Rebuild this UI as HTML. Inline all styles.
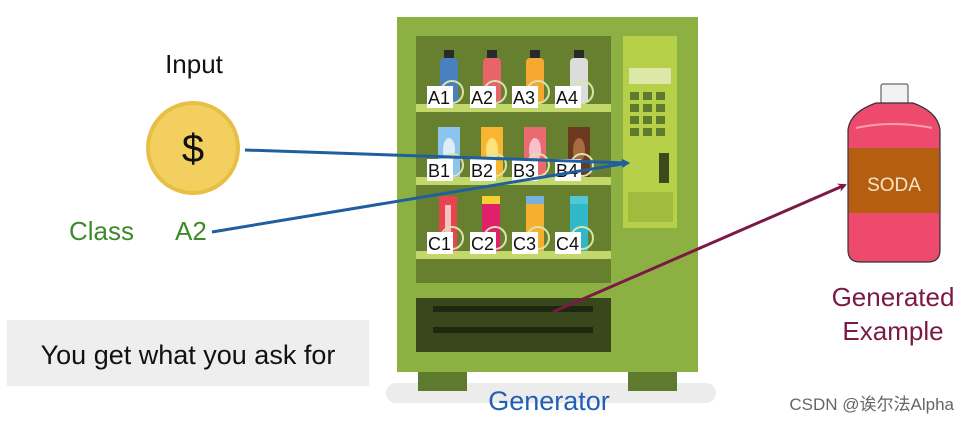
<!DOCTYPE html>
<html><head><meta charset="utf-8"><style>
html,body{margin:0;padding:0;background:#fff;}
svg{display:block;font-family:"Liberation Sans","Noto Sans CJK SC",sans-serif;}
</style></head><body>
<svg width="967" height="423" viewBox="0 0 967 423" xmlns="http://www.w3.org/2000/svg">
<defs>
<marker id="ab" markerWidth="8" markerHeight="8" refX="6" refY="4" orient="auto" markerUnits="userSpaceOnUse"><path d="M0,0 L8,4 L0,8 z" fill="#1f5fa0"/></marker>
<marker id="ap" markerWidth="9" markerHeight="9" refX="7" refY="4.5" orient="auto" markerUnits="userSpaceOnUse"><path d="M0,0 L9,4.5 L0,9 L3,4.5 z" fill="#7a1a45"/></marker>
</defs>
<text x="194" y="73" font-size="26" text-anchor="middle" fill="#111">Input</text>
<circle cx="193" cy="148" r="47" fill="#e8bf45"/>
<circle cx="193" cy="148" r="43" fill="#f3cf5f"/>
<text x="193" y="162" font-size="40" text-anchor="middle" fill="#111">$</text>
<text x="69" y="240" font-size="26" fill="#3d8a2a">Class</text>
<text x="175" y="240" font-size="26" fill="#3d8a2a">A2</text>
<rect x="7" y="320" width="362" height="66" fill="#eeeeee"/>
<text x="188" y="364" font-size="27" text-anchor="middle" fill="#111">You get what you ask for</text>
<!-- machine -->
<rect x="386" y="383" width="330" height="20" rx="10" fill="#ececec"/>
<rect x="418" y="370" width="49" height="21" fill="#5e7a2c"/>
<rect x="628" y="370" width="49" height="21" fill="#5e7a2c"/>
<rect x="397" y="17" width="301" height="355" fill="#8db043"/>
<rect x="416" y="36" width="195" height="247" fill="#67802f"/>
<rect x="416" y="298" width="195" height="54" fill="#38481c"/>
<rect x="433" y="306" width="160" height="6" fill="#1e2810"/>
<rect x="433" y="327" width="160" height="6" fill="#1e2810"/>
<rect x="623" y="36" width="54" height="192" fill="#b6d04a"/>
<rect x="629" y="68" width="42" height="16" fill="#dde7a8"/>
<g fill="#5e7a2c">
<rect x="630" y="92" width="9" height="8"/><rect x="643" y="92" width="9" height="8"/><rect x="656" y="92" width="9" height="8"/>
<rect x="630" y="104" width="9" height="8"/><rect x="643" y="104" width="9" height="8"/><rect x="656" y="104" width="9" height="8"/>
<rect x="630" y="116" width="9" height="8"/><rect x="643" y="116" width="9" height="8"/><rect x="656" y="116" width="9" height="8"/>
<rect x="630" y="128" width="9" height="8"/><rect x="643" y="128" width="9" height="8"/><rect x="656" y="128" width="9" height="8"/>
</g>
<rect x="659" y="153" width="10" height="30" fill="#3a4a1c"/>
<rect x="628" y="192" width="45" height="30" fill="#9fbc3e"/>
<g fill="#c3d86a">
<rect x="416" y="104" width="195" height="8"/>
<rect x="416" y="177" width="195" height="8"/>
<rect x="416" y="251" width="195" height="8"/>
</g>
<g>
<rect x="444" y="50" width="10" height="8" fill="#2a2a2a"/><rect x="440" y="58" width="18" height="46" rx="4" fill="#4a7fc0"/>
<rect x="487" y="50" width="10" height="8" fill="#2a2a2a"/><rect x="483" y="58" width="18" height="46" rx="4" fill="#e8636a"/>
<rect x="530" y="50" width="10" height="8" fill="#2a2a2a"/><rect x="526" y="58" width="18" height="46" rx="4" fill="#f5a830"/>
<rect x="574" y="50" width="10" height="8" fill="#2a2a2a"/><rect x="570" y="58" width="18" height="46" rx="4" fill="#dcdcdc"/>
</g>
<g>
<rect x="438" y="127" width="22" height="50" fill="#8cc4ee"/><ellipse cx="449" cy="150" rx="6" ry="12" fill="#dbeefa"/>
<rect x="481" y="127" width="22" height="50" fill="#f7b530"/><ellipse cx="492" cy="150" rx="6" ry="12" fill="#fbe27a"/>
<rect x="524" y="127" width="22" height="50" fill="#ea6a72"/><ellipse cx="535" cy="150" rx="6" ry="12" fill="#f8c0c8"/>
<rect x="568" y="127" width="22" height="50" fill="#6b3a1e"/><ellipse cx="579" cy="150" rx="6" ry="12" fill="#a86a40"/>
</g>
<g>
<rect x="439" y="196" width="18" height="55" fill="#e84550"/><rect x="445" y="205" width="6" height="40" fill="#f8c0c0"/>
<rect x="482" y="196" width="18" height="55" fill="#e0206a"/><rect x="482" y="196" width="18" height="8" fill="#f5d030"/>
<rect x="526" y="196" width="18" height="55" fill="#f5b030"/><rect x="526" y="196" width="18" height="8" fill="#7ab0e0"/>
<rect x="570" y="196" width="18" height="55" fill="#30b8c8"/><rect x="570" y="196" width="18" height="8" fill="#50c8d8"/>
</g>
<g fill="none" stroke="#d8e4b0" stroke-width="2">
<circle cx="452" cy="92" r="11"/><circle cx="495" cy="92" r="11"/><circle cx="538" cy="92" r="11"/><circle cx="582" cy="92" r="11"/>
<circle cx="452" cy="165" r="11"/><circle cx="495" cy="165" r="11"/><circle cx="538" cy="165" r="11"/><circle cx="582" cy="165" r="11"/>
<circle cx="452" cy="238" r="11"/><circle cx="495" cy="238" r="11"/><circle cx="538" cy="238" r="11"/><circle cx="582" cy="238" r="11"/>
</g>
<g fill="#fff">
<rect x="427" y="86" width="26" height="22"/><rect x="470" y="86" width="26" height="22"/><rect x="512" y="86" width="26" height="22"/><rect x="555" y="86" width="26" height="22"/>
<rect x="427" y="159" width="26" height="22"/><rect x="470" y="159" width="26" height="22"/><rect x="512" y="159" width="26" height="22"/><rect x="555" y="159" width="26" height="22"/>
<rect x="427" y="232" width="26" height="22"/><rect x="470" y="232" width="26" height="22"/><rect x="512" y="232" width="26" height="22"/><rect x="555" y="232" width="26" height="22"/>
</g>
<g font-size="18" fill="#111">
<text x="428" y="104">A1</text><text x="471" y="104">A2</text><text x="513" y="104">A3</text><text x="556" y="104">A4</text>
<text x="428" y="177">B1</text><text x="471" y="177">B2</text><text x="513" y="177">B3</text><text x="556" y="177">B4</text>
<text x="428" y="250">C1</text><text x="471" y="250">C2</text><text x="513" y="250">C3</text><text x="556" y="250">C4</text>
</g>
<text x="549" y="410" font-size="27" text-anchor="middle" fill="#1f5fb8">Generator</text>
<line x1="245" y1="150" x2="628" y2="163" stroke="#1f5fa0" stroke-width="3" marker-end="url(#ab)"/>
<line x1="212" y1="232" x2="628" y2="163" stroke="#1f5fa0" stroke-width="3" marker-end="url(#ab)"/>
<line x1="553" y1="312" x2="845" y2="185" stroke="#7a1a45" stroke-width="3" marker-end="url(#ap)"/>
<rect x="881" y="84" width="27" height="20" rx="2" fill="#f2f2f2" stroke="#444" stroke-width="1"/>
<path d="M876,103 L913,103 Q938,112 940,130 L940,250 Q940,262 928,262 L860,262 Q848,262 848,250 L848,130 Q850,112 876,103 Z" fill="#ee4a6e" stroke="#333" stroke-width="1.2"/>
<path d="M856,128 Q894,120 932,128" stroke="#f7a0b4" stroke-width="2" fill="none"/>
<rect x="849" y="148" width="90" height="65" fill="#b65e10"/>
<text x="894" y="191" font-size="19" text-anchor="middle" fill="#f5e6c8">SODA</text>
<text x="893" y="306" font-size="26" text-anchor="middle" fill="#7a1a45">Generated</text>
<text x="893" y="340" font-size="26" text-anchor="middle" fill="#7a1a45">Example</text>
<text x="954" y="410" font-size="17" text-anchor="end" fill="#666">CSDN @诶尔法Alpha</text>
</svg>
</body></html>
